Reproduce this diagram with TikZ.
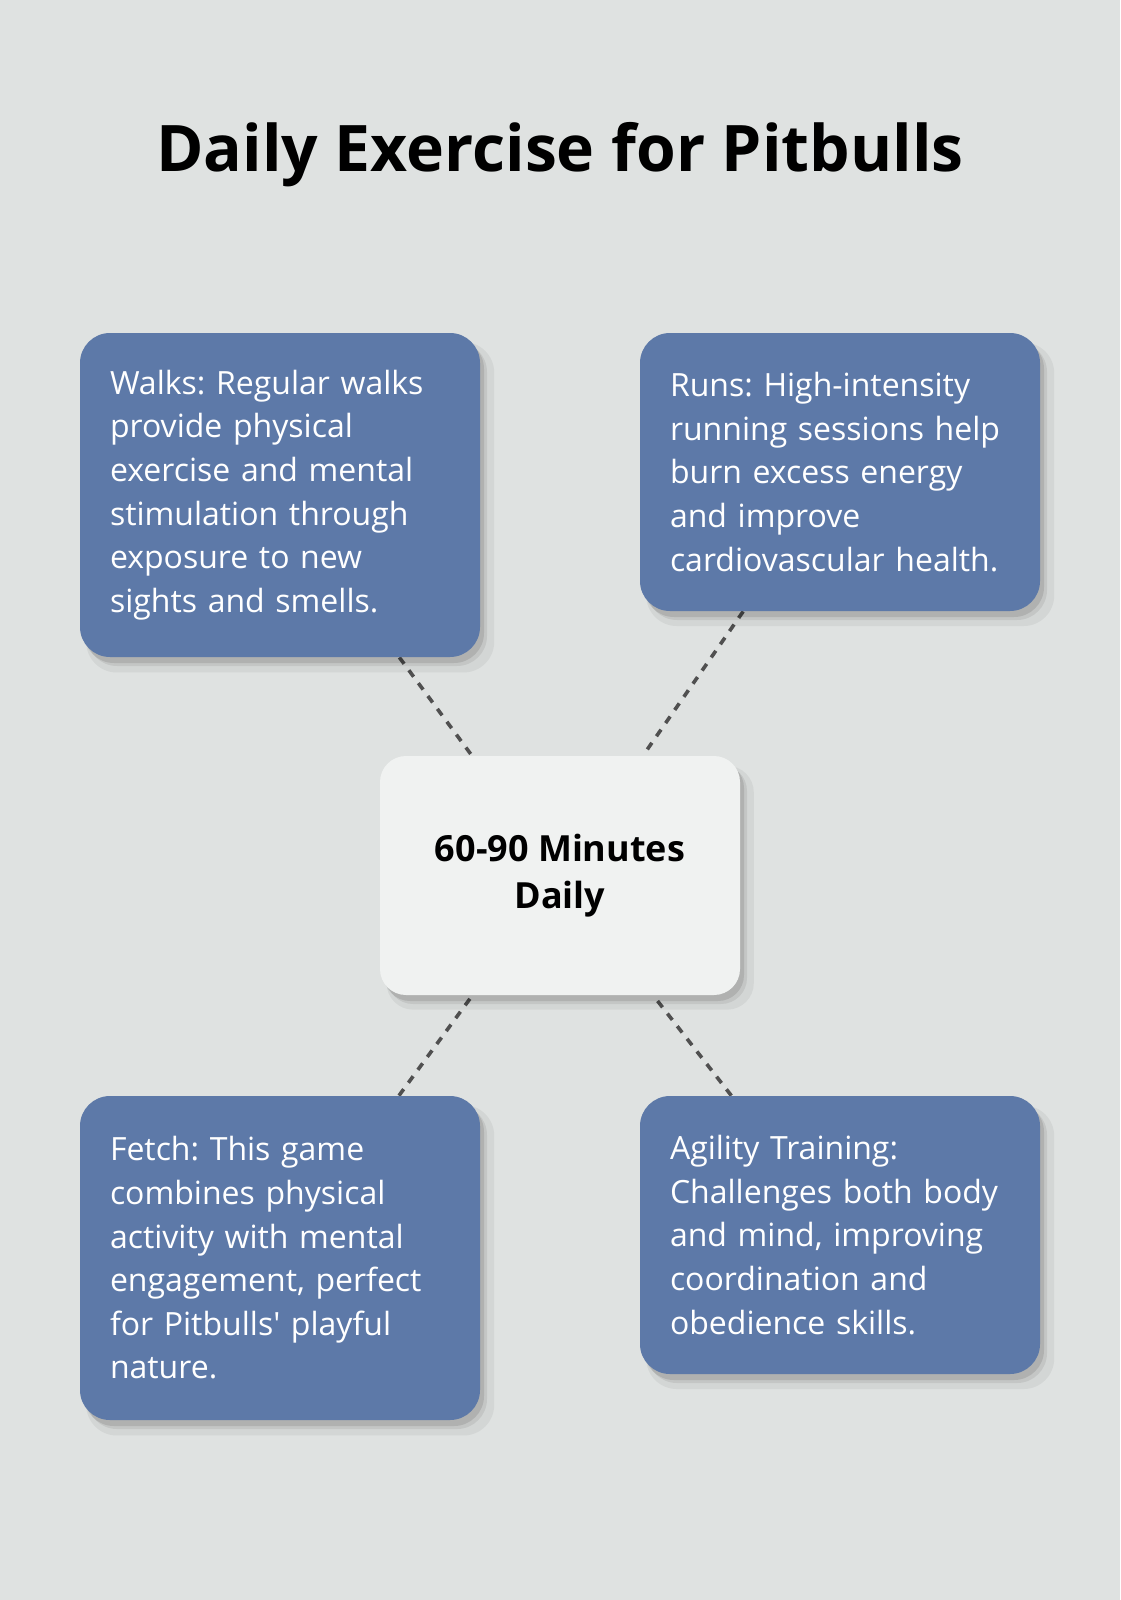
\documentclass[tikz,border=0pt]{standalone}
\usepackage{fontspec}
\setmainfont{Open Sans}
\usetikzlibrary{shadows}
\definecolor{fondo}{HTML}{DFE2E1}
\definecolor{azul}{HTML}{5D79A8}
\definecolor{claro}{HTML}{F0F2F1}
\definecolor{gris}{HTML}{505050}
\pgfdeclarelayer{capafondo}
\pgfsetlayers{capafondo,main}
\frenchspacing
\begin{document}
\begin{tikzpicture}[
    x=0.5pt, y=-0.5pt,
    sombra/.style={drop shadow={shadow xshift=5pt, shadow yshift=-6pt, shadow scale=1.02, opacity=0.05, fill=black},
                   drop shadow={shadow xshift=3.5pt, shadow yshift=-4.5pt, opacity=0.07, fill=black},
                   drop shadow={shadow xshift=2pt, shadow yshift=-3pt, opacity=0.10, fill=black}},
    tarjeta/.style={rounded corners=15pt, fill=azul, text=white, sombra, text width=170pt, inner xsep=15pt, inner ysep=0pt, minimum width=200pt, align=left, font=\fontsize{16}{21.8}\selectfont},
    centro/.style={rounded corners=13pt, fill=claro, sombra, minimum width=180pt, minimum height=119.5pt, align=center, font=\bfseries\fontsize{18}{23.5}\selectfont},
    titulo/.style={anchor=base, font=\bfseries\fontsize{32.1}{39}\selectfont},
    enlace/.style={draw=gris, line width=1.8pt, dash pattern=on 4pt off 4pt}
  ]
    \begin{pgfonlayer}{capafondo}
      \fill[fondo] (0,0) rectangle (1120,1600);
    \end{pgfonlayer}

    \node[titulo] (titulo) at (560,171) {Daily Exercise for Pitbulls};

    \node[tarjeta, minimum height=162pt] (paseos) at (280,495) {Walks: Regular walks\\provide physical\\exercise and mental\\stimulation through\\exposure to new\\sights and smells.};
    \node[tarjeta, minimum height=139pt] (carreras) at (840,472) {Runs: High-intensity\\running sessions help\\burn excess energy\\and improve\\cardiovascular health.};
    \node[centro] (minutos) at (560,875.5) {60-90 Minutes\\Daily};
    \node[tarjeta, minimum height=162pt] (buscar) at (280,1258) {Fetch: This game\\combines physical\\activity with mental\\engagement, perfect\\for Pitbulls\textquotesingle{} playful\\nature.};
    \node[tarjeta, minimum height=139pt] (agilidad) at (840,1235) {Agility Training:\\Challenges both body\\and mind, improving\\coordination and\\obedience skills.};

    \begin{pgfonlayer}{capafondo}
      \draw[enlace] (paseos) -- (minutos);
      \draw[enlace] (carreras) -- (minutos);
      \draw[enlace] (buscar) -- (minutos);
      \draw[enlace] (agilidad) -- (minutos);
    \end{pgfonlayer}
  \end{tikzpicture}
\end{document}
